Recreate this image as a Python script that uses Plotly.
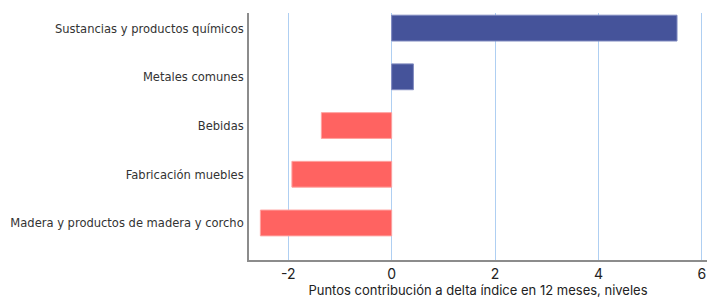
import plotly.graph_objects as go

categories = ["Sustancias y productos químicos", "Metales comunes", "Bebidas",
              "Fabricación muebles", "Madera y productos de madera y corcho"]
values = [5.52, 0.42, -1.36, -1.93, -2.54]
tick_vals = [-2, 0, 2, 4, 6]
tick_text = ["-2", "0", "2", "4", "6"]

colors = ["#45539A" if v >= 0 else "#FF6361" for v in values]
lines = ["#7F89BF" if v >= 0 else "#FFA3A0" for v in values]

fig = go.Figure(go.Bar(
    x=values, y=categories, orientation="h",
    marker=dict(color=colors, line=dict(color=lines, width=1)),
    width=0.53,
))
fig.update_layout(
    width=709, height=305,
    margin=dict(l=249, r=2, t=13, b=45),
    plot_bgcolor="white", paper_bgcolor="white",
    showlegend=False,
)
fig.update_yaxes(
    categoryorder="array", categoryarray=categories[::-1],
    range=[-0.76, 4.31],
    showline=True, linecolor="#8C8C8C", linewidth=1.5,
    showgrid=False, ticks="", ticklabelstandoff=1, automargin=False,
    tickfont=dict(family="DejaVu Sans Condensed, Liberation Sans, sans-serif", size=12.8, color="#333333"),
)
fig.update_xaxes(
    range=[-2.76, 6.10], tickvals=tick_vals, ticktext=tick_text,
    showline=True, linecolor="#8C8C8C", linewidth=1.5,
    showgrid=True, gridcolor="#AFCFF2", gridwidth=1,
    zeroline=True, zerolinecolor="#AFCFF2", zerolinewidth=1,
    ticks="", automargin=False,
    tickfont=dict(family="Inter, sans-serif", size=14, color="#222222"),
    title=dict(text="Puntos contribución a delta índice en 12 meses, niveles",
               font=dict(family="Inter, sans-serif", size=13, color="#222222"), standoff=4),
)
fig.write_html("out.html", config={"displayModeBar": False},
               post_script="document.body.style.margin='0';document.body.style.overflow='hidden';")
